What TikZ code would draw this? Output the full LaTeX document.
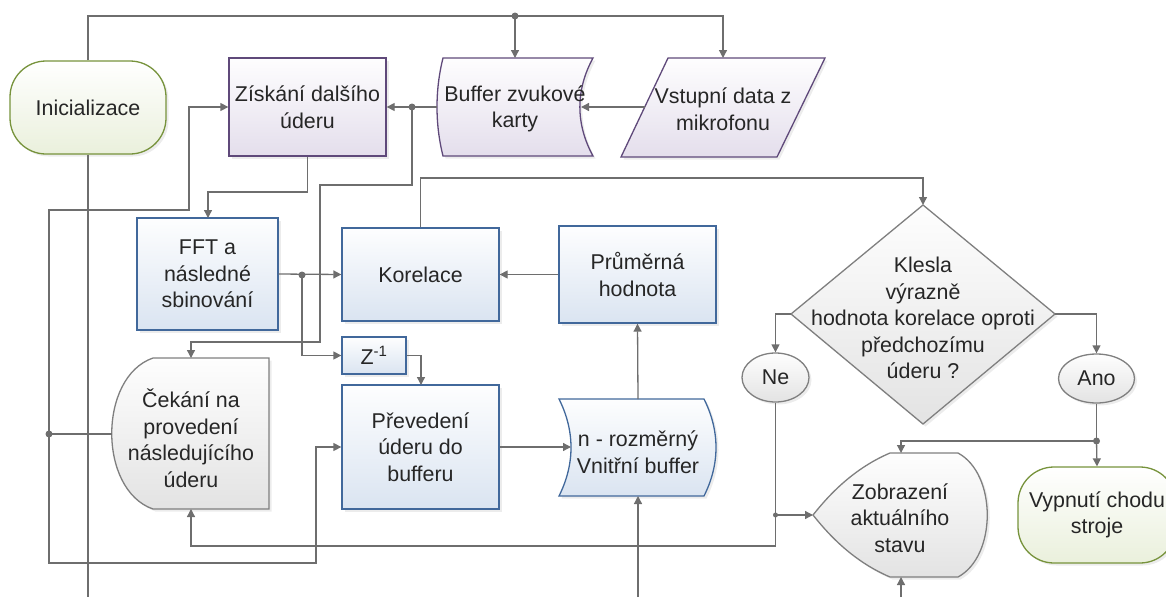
\documentclass[tikz,border=0pt]{standalone}
\usepackage{fontspec}
\setmainfont{Liberation Sans}
\usetikzlibrary{arrows.meta,shapes.geometric,shadows}

\definecolor{lineg}{HTML}{6E6E6E}
\definecolor{txtc}{HTML}{262626}
\definecolor{greenb}{HTML}{77933C}
\definecolor{greenf}{HTML}{EAF0DC}
\definecolor{purpb}{HTML}{5F497A}
\definecolor{purpf}{HTML}{E4DEEC}
\definecolor{blueb}{HTML}{41689B}
\definecolor{bluef}{HTML}{DAE4F1}
\definecolor{grayb}{HTML}{7F7F7F}
\definecolor{grayf}{HTML}{E3E3E3}

\begin{document}
\begin{tikzpicture}[x=1pt,y=-1pt,
  conn/.style={draw=lineg, line width=1.3pt},
  arr/.style={conn, -{Triangle[length=8pt,width=8pt]}},
  jdot/.style={circle, fill=lineg, inner sep=0pt, minimum size=7pt},
  lbl/.style={align=center, text=txtc, font=\fontsize{21.4}{26.5}\selectfont, inner sep=0pt},
  shad/.style={drop shadow={opacity=0.15, shadow xshift=2.5pt, shadow yshift=-2.5pt}},
  greenshape/.style={draw=greenb, line width=1.3pt, top color=white, bottom color=greenf, shad},
  purpshape/.style={draw=purpb, line width=1.3pt, top color=white!96!purpf, bottom color=purpf, shad},
  blueshape/.style={draw=blueb, line width=1.3pt, top color=white!96!bluef, bottom color=bluef, shad},
  grayshape/.style={draw=grayb, line width=1.3pt, top color=white!96!grayf, bottom color=grayf, shad},
  termbox/.style={lbl, greenshape, rounded corners=36pt, minimum width=156pt, minimum height=93pt},
]
\useasboundingbox (0,0) rectangle (1166,597);

% ---------- start / end terminators ----------
\node[termbox] (init) at (88,107.5) {Inicializace};
\node[termbox, minimum width=158pt, minimum height=96pt] (off) at (1097,515) {Vypnutí chodu\\stroje};

% ---------- process boxes ----------
\node[lbl, purpshape, minimum width=157pt, minimum height=98pt] (get) at (307.5,107) {Získání dalšího\\úderu};
\node[lbl, blueshape, minimum width=141pt, minimum height=112pt] (fft) at (207.5,274) {FFT a\\následné\\sbinování};
\node[lbl, blueshape, minimum width=157pt, minimum height=93pt] (kor) at (420.5,274.5) {Korelace};
\node[lbl, blueshape, minimum width=157pt, minimum height=97pt] (avg) at (637.5,274.5) {Průměrná\\hodnota};
\node[lbl, blueshape, minimum width=64pt, minimum height=37pt] (zinv) at (374,355.5) {Z\textsuperscript{-1}};
\node[lbl, blueshape, minimum width=157pt, minimum height=124pt] (prev) at (420.5,447) {Převedení\\úderu do\\bufferu};

% ---------- sound card buffer (stored data) ----------
\draw[purpshape] (443,58) -- (593,58) .. controls (575.5,90) and (575.5,124) .. (593,156)
  -- (443,156) .. controls (435,124) and (435,90) .. (443,58) -- cycle;
\node[lbl, minimum width=156pt, minimum height=98pt] (buf) at (515,109) {Buffer zvukové\\karty};
\coordinate (bufN) at (515,58);
\coordinate (bufW) at (437,107);
\coordinate (bufE) at (581,107);

% ---------- microphone input (data) ----------
\draw[purpshape] (668,58) -- (825,58) -- (777,157) -- (621,157) -- cycle;
\node[lbl] (vst) at (723,109) {Vstupní data z\\mikrofonu};
\coordinate (vstN) at (723,58);
\coordinate (vstW) at (644.5,107);

% ---------- internal buffer ----------
\draw[blueshape] (559,399) -- (704,399) .. controls (720,431) and (720,464) .. (704,496)
  -- (559,496) .. controls (575,464) and (575,431) .. (559,399) -- cycle;
\node[lbl] (nbuf) at (638,452) {n - rozměrný\\Vnitřní buffer};
\coordinate (nbufN) at (638,399);
\coordinate (nbufS) at (638,496);
\coordinate (nbufW) at (571,447);

% ---------- waiting (delay) ----------
\draw[grayshape] (153,358) -- (269,358) -- (269,509) -- (153,509)
  .. controls (98,490) and (98,377) .. (153,358) -- cycle;
\node[lbl] (wait) at (191,438) {Čekání na\\provedení\\následujícího\\úderu};
\coordinate (waitN) at (191,358);
\coordinate (waitS) at (191,509);
\coordinate (waitW) at (112,434);

% ---------- decision ----------
\draw[grayshape] (923,205) -- (1055,314) -- (923,424) -- (791,314) -- cycle;
\node[lbl] (dec) at (923,318) {Klesla\\výrazně\\hodnota korelace oproti\\předchozímu\\úderu ?};
\coordinate (decN) at (923,205);
\coordinate (decW) at (791,314);
\coordinate (decE) at (1055,314);

\node[lbl, grayshape, ellipse, minimum width=67pt, minimum height=49pt] (ne) at (775.5,377.5) {Ne};
\node[lbl, grayshape, ellipse, minimum width=76pt, minimum height=49pt] (ano) at (1096.5,378.5) {Ano};

% ---------- display ----------
\draw[grayshape] (890,453) -- (958,453) .. controls (997,474) and (997,556) .. (958,577)
  -- (890,577) .. controls (850,560) and (825,530) .. (813,515)
  .. controls (825,500) and (850,470) .. (890,453) -- cycle;
\node[lbl] (disp) at (900,518) {Zobrazení\\aktuálního\\stavu};
\coordinate (dispN) at (901,453);
\coordinate (dispS) at (901,577);
\coordinate (dispW) at (813,515);

% ---------- junctions ----------
\node[jdot] (j1) at (515,16) {};
\node[jdot] (j2) at (412,107) {};
\node[jdot] (j3) at (302,275) {};
\node[jdot] (j4) at (49,434) {};
\node[jdot] (j5) at (1096.5,441) {};
\node[jdot, minimum size=5pt] (j6) at (775.5,515) {};

% free ends at the lower edge
\coordinate (e1) at (88,597);
\coordinate (e2) at (638,597);
\coordinate (e3) at (901,597);

% ---------- connectors ----------
\draw[conn] (init.north) |- (j1.center);
\draw[arr] (j1.center) -| (vstN);
\draw[arr] (j1.center) -- (bufN);
\draw[conn] (init.south) -- (e1);

\draw[arr] (vstW) -- (bufE);
\draw[arr] (bufW) -- (get.east);
\draw[arr] (j2.center) |- (320,185) |- (191,342) -- (waitN);

\draw[arr] (get.south) |- (208,192) -- (208,218);
\draw[arr] (fft.east) -- (kor.west);
\draw[arr] (j3.center) |- (zinv.west);
\draw[arr] (zinv.east) -| (421,385);
\draw[arr] (prev.east) -- (nbufW);
\draw[arr] (nbufN) -- (avg.south);
\draw[arr] (avg.west) -- (kor.east);
\draw[arr] (e2) -- (nbufS);

\draw[arr] (kor.north) |- (923,178) -- (decN);
\draw[arr] (decW) -| (ne.north);
\draw[arr] (decE) -| (ano.north);

\draw[conn] (ano.south) -- (j5.center);
\draw[arr] (j5.center) -- (off.north);
\draw[arr] (j5.center) -| (dispN);

\draw[arr] (ne.south) |- (191,546) -- (waitS);
\draw[arr] (j6.center) -- (dispW);
\draw[arr] (e3) -- (dispS);

\draw[conn] (waitW) -- (j4.center);
\draw[arr] (j4.center) |- (189,210) |- (get.west);
\draw[arr] (j4.center) |- (316,563) |- (prev.west);
\end{tikzpicture}
\end{document}
